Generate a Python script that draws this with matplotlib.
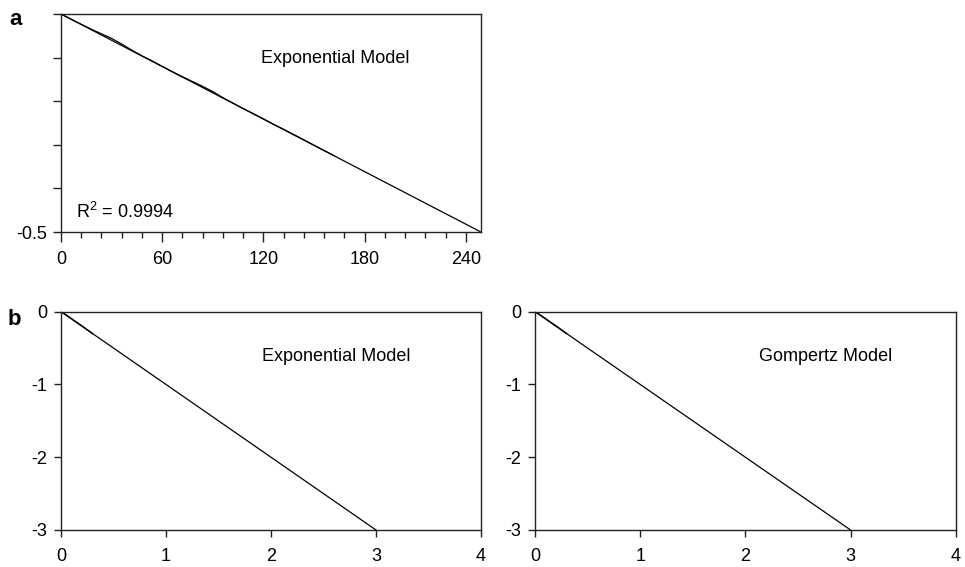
import matplotlib
matplotlib.use("Agg")
import matplotlib.pyplot as plt
from matplotlib.ticker import MultipleLocator, FixedLocator, NullFormatter

plt.rcParams["font.family"] = ["Liberation Sans", "DejaVu Sans"]

# Panel a: observed series and fitted exponential model
a_obs_x = [0, 6, 12, 18, 24, 30, 36, 42, 48, 54, 60, 66, 72, 78, 84, 90, 96,
           102, 108, 114, 120, 126, 132, 138, 144, 150, 156, 162]
a_obs_y = [0.0, -0.012, -0.0235, -0.035, -0.0455, -0.056, -0.069, -0.083,
           -0.096, -0.1075, -0.120, -0.1325, -0.144, -0.155, -0.166, -0.178,
           -0.192, -0.2045, -0.217, -0.2285, -0.2405, -0.253, -0.2645,
           -0.2765, -0.2885, -0.301, -0.313, -0.325]
a_fit_x = [0, 249]
a_fit_y = [0.0, -0.5]
a_r2 = "0.9994"

# Panel b: short observed series plus fitted lines
b_obs_x = [0, 0.05, 0.1, 0.15, 0.2, 0.25, 0.3]
b_obs_y = [0.0, -0.045, -0.095, -0.147, -0.196, -0.248, -0.300]
b_fit_x = [0, 3]
b_fit_y = [0.0, -3.0]
b_xticks = [0, 1, 2, 3, 4]
b_yticks = [-3, -2, -1, 0]

model_names = ["Exponential Model", "Gompertz Model"]

fig = plt.figure(figsize=(9.65, 5.67), dpi=100)

ax_a = fig.add_axes([0.0632, 0.5908, 0.4352, 0.3845])
ax_b1 = fig.add_axes([0.0632, 0.0653, 0.4352, 0.3850])
ax_b2 = fig.add_axes([0.5544, 0.0653, 0.4360, 0.3850])

for ax in (ax_a, ax_b1, ax_b2):
    for sp in ax.spines.values():
        sp.set_linewidth(1.0)
        sp.set_color("#222222")
    ax.tick_params(direction="out", labelsize=13, width=1.0, color="#222222")

# ---- panel a
ax_a.plot(a_obs_x, a_obs_y, color="black", lw=0.9)
ax_a.plot(a_fit_x, a_fit_y, color="black", lw=0.9)
ax_a.set_xlim(0, 249)
ax_a.set_ylim(-0.5, 0)
ax_a.xaxis.set_major_locator(MultipleLocator(60))
ax_a.xaxis.set_minor_locator(MultipleLocator(12))
ax_a.yaxis.set_major_locator(FixedLocator([-0.5]))
ax_a.yaxis.set_minor_locator(FixedLocator([-0.4, -0.3, -0.2, -0.1, 0.0]))
ax_a.yaxis.set_minor_formatter(NullFormatter())
ax_a.set_yticklabels(["-0.5"])
ax_a.tick_params(axis="x", which="major", length=7.5, pad=6)
ax_a.tick_params(axis="x", which="minor", length=4.5, width=1.0, color="#222222")
ax_a.tick_params(axis="y", which="both", length=6, width=1.0, color="#222222", pad=4)
ax_a.text(118.5, -0.103, model_names[0], fontsize=13, va="center", ha="left")
ax_a.text(9, -0.454, r"R$^{\mathregular{2}}$ = " + a_r2, fontsize=13,
          va="center", ha="left")

# ---- panel b
for ax, name, tx in ((ax_b1, model_names[0], 1.91), (ax_b2, model_names[1], 2.13)):
    ax.plot(b_obs_x, b_obs_y, color="black", lw=1.0)
    ax.plot(b_fit_x, b_fit_y, color="black", lw=0.9)
    ax.set_xlim(0, 4)
    ax.set_ylim(-3, 0)
    ax.set_xticks(b_xticks)
    ax.set_xticklabels([str(v) for v in b_xticks])
    ax.set_yticks(b_yticks)
    ax.set_yticklabels([str(v) for v in b_yticks])
    ax.tick_params(axis="x", length=5, pad=8)
    ax.tick_params(axis="y", length=5, pad=5)
    ax.text(tx, -0.62, name, fontsize=13, va="center", ha="left")

fig.text(0.010, 0.965, "a", fontsize=16, fontweight="bold", va="center")
fig.text(0.008, 0.437, "b", fontsize=16, fontweight="bold", va="center")

fig.savefig("out.png", dpi=100)
